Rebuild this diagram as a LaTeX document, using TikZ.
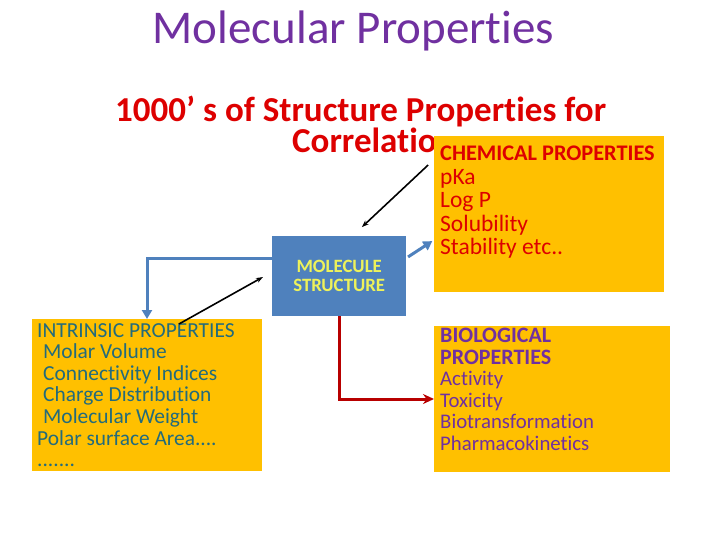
\documentclass[tikz,border=0pt]{standalone}
\usepackage{fontspec}
\setmainfont{Carlito}[Ligatures=NoCommon]
\usetikzlibrary{arrows.meta,calc}
\definecolor{ttlpurple}{HTML}{7030A0}
\definecolor{subred}{HTML}{DD0000}
\definecolor{boxorange}{HTML}{FFC000}
\definecolor{molblue}{HTML}{4F81BD}
\definecolor{moltext}{HTML}{EEF25A}
\definecolor{intrteal}{HTML}{236B7C}
\definecolor{biopurple}{HTML}{7030A0}
\definecolor{darkred}{HTML}{B80000}
\tikzset{
  obox/.style={fill=boxorange, draw=none, inner sep=0pt, anchor=north west},
  boxtext/.style={anchor=north west, align=left, inner sep=0pt},
  bluearrow/.style={draw=molblue, line width=3pt, -{Triangle[length=9pt,width=10pt]}},
  blackarrow/.style={draw=black, line width=1.6pt, -{Stealth[length=7pt,width=5pt]}},
  redarrow/.style={draw=darkred, line width=3pt, -{Stealth[length=11pt,width=10pt]}},
}
\newcommand{\biohead}[1]{{\fontsize{22}{20.5}\selectfont\bfseries #1}}
\begin{document}
\begin{tikzpicture}[x=1pt,y=-1pt]
\useasboundingbox (0,0) rectangle (720,540);

% titles
\node[anchor=base, text=ttlpurple, inner sep=0pt, font=\fontsize{47}{50}\selectfont] (title) at (353.5,44) {Molecular Properties};
\node[anchor=base west, align=left, text=subred, inner sep=0pt, font=\fontsize{35}{31}\selectfont\bfseries] (sub) at (115,153)
  {1000’\hspace{8pt}s of Structure Properties for\\\hspace*{177pt}Correlatio};

% boxes
\node[obox, minimum width=230pt, minimum height=156pt] (chem) at (434,136) {};
\node[obox, minimum width=230pt, minimum height=152pt] (intr) at (32,319) {};
\node[obox, minimum width=236pt, minimum height=146pt] (bio) at (434,326) {};
\node[fill=molblue, inner sep=0pt, minimum width=134pt, minimum height=80pt, anchor=north west,
      align=center, text=moltext, font=\fontsize{18.8}{19}\selectfont\bfseries] (mol) at (272,236) {MOLECULE\\STRUCTURE};

% box texts
\node[boxtext, text=subred, font=\fontsize{23.5}{23.5}\selectfont] (chemtxt) at (440,146)
  {{\fontsize{22.3}{23.5}\selectfont\bfseries CHEMICAL PROPERTIES}\\pKa\\Log P\\Solubility\\Stability etc..};
\node[boxtext, text=intrteal, font=\fontsize{21.4}{21.6}\selectfont] (intrtxt) at (37,323)
  {INTRINSIC PROPERTIES\\\hspace{6pt}Molar Volume\\\hspace{6pt}Connectivity Indices\\\hspace{6pt}Charge Distribution\\\hspace{6pt}Molecular Weight\\Polar surface Area....\\.......};
\node[boxtext, text=biopurple, font=\fontsize{20.8}{21.5}\selectfont] (biotxt) at (440,328)
  {\biohead{BIOLOGICAL}\\\biohead{PROPERTIES}\\Activity\\Toxicity\\Biotransformation\\Pharmacokinetics};

% connectors
\draw[blackarrow, shorten <=8pt, shorten >=13pt] ($(chem.north west)+(0,23.5)$) -- ($(mol.north west)+(80.4,0)$);
\draw[bluearrow, shorten <=2pt, shorten >=2pt] ($(mol.north east)+(0,22)$) -- ($(chem.north west)+(0,104)$);
\draw[bluearrow] ($(mol.north west)+(0,22)$) -| ($(intr.north west)+(115,0)$);
\draw[blackarrow] ($(intr.north west)+(147,5)$) -- ($(mol.north west)+(-9,41)$);
\draw[redarrow] ($(mol.south west)+(67,0)$) |- ($(bio.north west)+(0,73)$);
\end{tikzpicture}
\end{document}
